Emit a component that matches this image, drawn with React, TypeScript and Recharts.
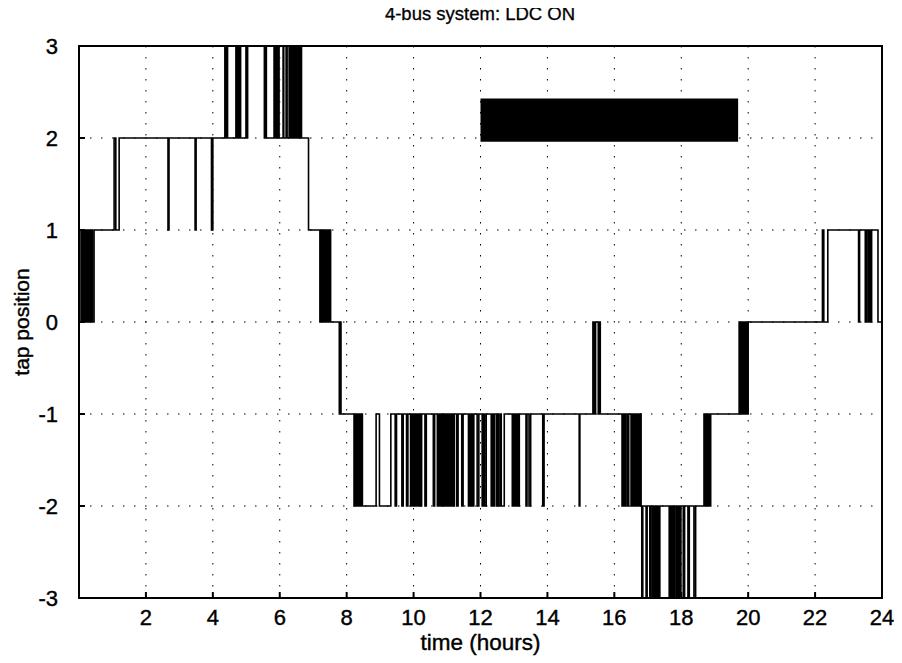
import React from 'react'
import { LineChart, Line, XAxis, YAxis, CartesianGrid, ReferenceArea, Label } from 'recharts'

// tap changes: [hour, tap position], value holds until next entry
const morningSteps: [number, number][] = [
  [0, 1], [0.06, 0], [0.09, 1], [0.12, 0], [0.16, 1], [0.19, 0], [0.23, 1], [0.26, 0],
  [0.3, 1], [0.33, 0], [0.37, 1], [0.4, 0], [0.45, 1],
  [1.05, 2], [1.1, 1], [1.2, 2],
  [2.66, 1], [2.69, 2], [3.47, 1], [3.5, 2], [3.96, 1], [4.0, 2],
  [4.36, 3], [4.38, 2], [4.42, 3], [4.44, 2],
  [4.69, 3], [4.71, 2], [4.74, 3], [4.77, 2], [4.8, 3], [4.83, 2],
  [4.99, 3], [5.01, 2], [5.04, 3],
  [5.54, 2], [5.57, 3], [5.6, 2],
  [5.83, 3], [5.85, 2], [5.89, 3], [5.91, 2], [5.95, 3], [5.98, 2],
  [6.1, 3], [6.12, 2], [6.19, 3], [6.22, 2],
  [6.28, 3], [6.31, 2], [6.34, 3], [6.37, 2], [6.4, 3], [6.43, 2], [6.46, 3], [6.49, 2],
  [6.52, 3], [6.55, 2], [6.58, 3], [6.61, 2], [6.63, 3], [6.65, 2],
  [6.86, 1],
  [7.2, 0], [7.23, 1], [7.26, 0], [7.3, 1], [7.33, 0], [7.37, 1], [7.4, 0], [7.44, 1],
  [7.47, 0], [7.5, 1], [7.52, 0],
  [7.78, -1], [7.8, 0], [7.83, -1],
]

const middaySteps: [number, number][] = [
  [8.22, -2], [8.25, -1], [8.28, -2], [8.31, -1], [8.34, -2], [8.37, -1], [8.4, -2], [8.43, -1], [8.47, -2],
  [8.88, -1], [8.98, -2], [9.32, -1],
  [9.45, -2], [9.49, -1], [9.65, -2], [9.69, -1], [9.79, -2], [9.83, -1],
  [9.91, -2], [9.94, -1], [9.97, -2], [10.0, -1], [10.03, -2], [10.06, -1], [10.09, -2], [10.12, -1],
  [10.15, -2], [10.18, -1], [10.21, -2], [10.24, -1],
  [10.34, -2], [10.38, -1], [10.59, -2], [10.63, -1],
  [10.71, -2], [10.74, -1], [10.77, -2], [10.8, -1], [10.83, -2], [10.86, -1], [10.89, -2], [10.92, -1],
  [10.95, -2], [10.98, -1], [11.01, -2], [11.04, -1], [11.07, -2], [11.1, -1], [11.13, -2], [11.16, -1],
  [11.19, -2], [11.22, -1],
  [11.29, -2], [11.33, -1], [11.44, -2], [11.48, -1],
  [11.64, -2], [11.67, -1], [11.7, -2], [11.73, -1], [11.76, -2], [11.8, -1],
  [11.9, -2], [11.95, -1], [12.05, -2], [12.08, -1], [12.12, -2], [12.17, -1],
  [12.32, -2], [12.36, -1], [12.38, -2], [12.41, -1],
  [12.47, -2], [12.5, -1], [12.53, -2], [12.58, -1], [12.62, -2], [12.71, -1],
  [12.95, -2], [12.98, -1], [13.01, -2], [13.04, -1], [13.07, -2], [13.1, -1], [13.13, -2], [13.16, -1],
  [13.36, -2], [13.39, -1], [13.45, -2], [13.5, -1],
  [13.86, -2], [13.9, -1], [14.95, -2], [14.97, -1],
  [15.36, 0], [15.4, -1], [15.44, 0], [15.52, -1], [15.55, 0], [15.58, -1],
]

const eveningSteps: [number, number][] = [
  [16.23, -2], [16.27, -1], [16.3, -2], [16.34, -1], [16.39, -2], [16.43, -1], [16.5, -2], [16.53, -1],
  [16.56, -2], [16.59, -1], [16.62, -2], [16.65, -1], [16.68, -2], [16.71, -1], [16.74, -2], [16.77, -1], [16.8, -2],
  [16.82, -3], [16.85, -2], [16.95, -3], [16.98, -2], [17.06, -3], [17.09, -2], [17.14, -3], [17.17, -2],
  [17.2, -3], [17.23, -2], [17.26, -3], [17.29, -2], [17.32, -3], [17.36, -2],
  [17.64, -3], [17.67, -2], [17.7, -3], [17.73, -2], [17.76, -3], [17.79, -2], [17.84, -3], [17.87, -2],
  [17.9, -3], [17.93, -2], [17.96, -3], [17.99, -2], [18.06, -3], [18.1, -2], [18.2, -3], [18.24, -2],
  [18.38, -3], [18.43, -2],
  [18.68, -1], [18.71, -2], [18.74, -1], [18.77, -2], [18.8, -1], [18.84, -2], [18.88, -1],
  [19.73, 0], [19.76, -1], [19.8, 0], [19.83, -1], [19.87, 0], [19.9, -1], [19.93, 0], [19.96, -1], [20.0, 0],
  [22.22, 1], [22.26, 0], [22.38, 1],
  [23.3, 0], [23.33, 1], [23.5, 0], [23.53, 1], [23.58, 0], [23.62, 1], [23.66, 0], [23.69, 1], [23.88, 0], [24, 0],
]

const xTicks = [2, 4, 6, 8, 10, 12, 14, 16, 18, 20, 22, 24]
const yTicks = [-3, -2, -1, 0, 1, 2, 3]

const data = [...morningSteps, ...middaySteps, ...eveningSteps].map(([t, tap]) => ({ t, tap }))

const font = 'Liberation Sans, Arial, sans-serif'
const textStyle = { fill: '#000', stroke: '#000', strokeWidth: 0.4, fontFamily: font }

export default function App() {
  return (
    <div style={{ position: 'relative', width: 894, height: 655 }}>
      <div
        style={{
          position: 'absolute',
          left: 272,
          top: -4,
          width: 400,
          textAlign: 'center',
          fontFamily: font,
          fontSize: 18.5,
          lineHeight: '20px',
          color: '#000',
          WebkitTextStroke: '0.3px #000',
        }}
      >
        4-bus system: LDC ON
      </div>
      <LineChart width={894} height={655} data={data} margin={{ top: 38, right: 20, bottom: 35, left: 11 }}>
        <CartesianGrid stroke="#000" strokeDasharray="1.5 9.5" horizontalValues={[-2, -1, 0, 1, 2]} verticalValues={[2, 4, 6, 8, 10, 12, 14, 16, 18, 20, 22]} />
        <XAxis
          dataKey="t"
          type="number"
          domain={[0, 24]}
          ticks={xTicks}
          allowDataOverflow
          height={30}
          axisLine={false}
          tickSize={-6}
          tickMargin={17}
          tickLine={{ stroke: '#000', strokeWidth: 2 }}
          tick={{ ...textStyle, fontSize: 22 }}
        >
          <Label value="time (hours)" position="bottom" offset={6} style={{ ...textStyle, fontSize: 22.5 }} />
        </XAxis>
        <XAxis
          xAxisId="top"
          orientation="top"
          dataKey="t"
          type="number"
          domain={[0, 24]}
          ticks={xTicks}
          height={0}
          axisLine={false}
          tickSize={-6}
          tickFormatter={() => ''}
          tickLine={{ stroke: '#000', strokeWidth: 2 }}
        />
        <YAxis
          type="number"
          domain={[-3, 3]}
          ticks={yTicks}
          width={60}
          axisLine={false}
          tickSize={-6}
          tickMargin={27}
          tickLine={{ stroke: '#000', strokeWidth: 2 }}
          tick={{ ...textStyle, fontSize: 22 }}
        >
          <Label value="tap position" angle={-90} position="insideLeft" offset={3} style={{ ...textStyle, fontSize: 21, textAnchor: 'middle' }} />
        </YAxis>
        <YAxis
          yAxisId="right"
          orientation="right"
          type="number"
          domain={[-3, 3]}
          ticks={yTicks}
          width={0}
          axisLine={false}
          tickSize={-6}
          tickFormatter={() => ''}
          tickLine={{ stroke: '#000', strokeWidth: 2 }}
        />
        <ReferenceArea x1={12} x2={19.7} y1={1.96} y2={2.43} fill="#000" fillOpacity={1} stroke="none" />
        <Line
          type="stepAfter"
          dataKey="tap"
          stroke="#000"
          strokeWidth={1.6}
          dot={false}
          isAnimationActive={false}
        />
        <ReferenceArea x1={0} x2={24} y1={-3} y2={3} fill="none" stroke="#000" strokeWidth={2} />
      </LineChart>
    </div>
  )
}
